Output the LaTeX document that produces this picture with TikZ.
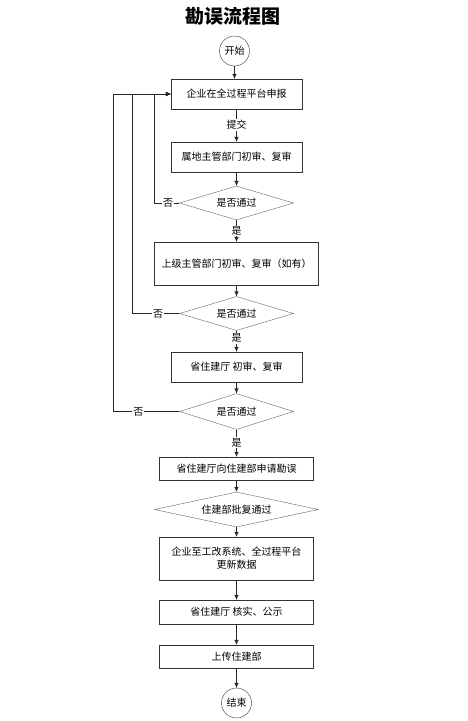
\documentclass[tikz,border=0pt]{standalone}
\usepackage{fontspec}
\setmainfont{Noto Sans CJK SC}
\usetikzlibrary{shapes.geometric,arrows.meta}

\begin{document}
\begin{tikzpicture}[x=1pt,y=-1pt,
    every node/.style={font=\fontsize{10}{13}\selectfont},
    box/.style={draw=black!80,inner sep=0,minimum width=131pt,minimum height=30pt,align=center},
    dec/.style={draw=black!60,shape=diamond,aspect=3.4,inner sep=0,minimum width=114pt,minimum height=34pt},
    lbl/.style={fill=white,inner sep=1pt},
    ->/.style={-{Latex[length=5pt,width=4.5pt]},draw=black!85}]
  \useasboundingbox (0,0) rectangle (467,721);
  \node at (233,16) {\fontsize{19}{22}\selectfont\bfseries 勘误流程图};
  \node[draw=black!80,circle,minimum size=30pt,inner sep=0] (start) at (234.5,51) {开始};
  \node[box] (b1) at (236.5,94) {企业在全过程平台申报};
  \node[box] (b2) at (236.5,157) {属地主管部门初审、复审};
  \node[dec] (d1) at (236.5,203) {是否通过};
  \node[box,minimum width=164pt,minimum height=43pt] (b3) at (236.5,263.5) {上级主管部门初审、复审（如有）};
  \node[dec] (d2) at (236.5,313.5) {是否通过};
  \node[box] (b4) at (236.5,367) {省住建厅 初审、复审};
  \node[dec,minimum height=36pt] (d3) at (236.5,411.5) {是否通过};
  \node[box,minimum width=154pt,minimum height=23pt] (b5) at (236.5,468.5) {省住建厅向住建部申请勘误};
  \node[dec,minimum width=164pt,minimum height=35pt] (d4) at (236.5,509.5) {住建部批复通过};
  \node[box,minimum width=154pt,minimum height=43pt] (b6) at (236.5,558.5) {企业至工改系统、全过程平台\\更新数据};
  \node[box,minimum width=154pt,minimum height=24pt] (b7) at (236.5,612) {省住建厅 核实、公示};
  \node[box,minimum width=154pt,minimum height=23pt] (b8) at (236.5,656.5) {上传住建部};
  \node[draw=black!80,circle,minimum size=30pt,inner sep=0] (end) at (236.5,703) {结束};
  \draw[->] (start) -- (start |- b1.north);
  \foreach \a/\b in {b2/d1,b3/d2,b4/d3,b5/d4,d4/b6,b6/b7,b7/b8,b8/end}
    \draw[->] (\a) -- (\b);
  \draw[->] (b1) -- node[lbl,pos=0.48] {提交} (b2);
  \draw[->] (d1) -- node[lbl,pos=0.5] {是} (b3);
  \draw[->] (d2) -- node[lbl,pos=0.36] {是} (b4);
  \draw[->] (d3) -- node[lbl,pos=0.48] {是} (b5);
  \draw[->] (d1.west) -- node[lbl,pos=0.45] {否} ++(-25,0) |- (b1.west);
  \draw[->] (d2.west) -- node[lbl,pos=0.45] {否} ++(-47,0) |- (b1.west);
  \draw[->] (d3.west) -- node[lbl,pos=0.62] {否} ++(-66,0) |- (b1.west);
\end{tikzpicture}
\end{document}
